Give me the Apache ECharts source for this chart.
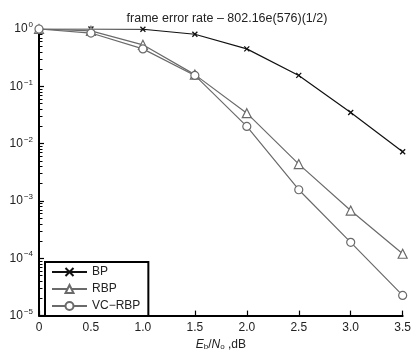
<!DOCTYPE html>
<html>
<head>
<meta charset="utf-8">
<script src="https://cdn.jsdelivr.net/npm/echarts@6/dist/echarts.min.js"></script>
<style>html,body{margin:0;padding:0;background:#fff}#c{width:414px;height:356px}</style>
</head>
<body>
<div id="c"></div>
<script>
var snr = [0, 0.5, 1.0, 1.5, 2.0, 2.5, 3.0, 3.5];
var bp = [1.0, 1.0, 0.99, 0.81, 0.45, 0.155, 0.035, 0.0072];
var rbp = [1.0, 0.93, 0.53, 0.16, 0.034, 0.0044, 0.00068, 0.00012];
var vcrbp = [1.0, 0.85, 0.45, 0.155, 0.02, 0.00157, 0.00019, 0.0000225];
var seriesNames = ['BP', 'RBP', 'VC\u2212RBP'];
var xTicks = ['0', '0.5', '1.0', '1.5', '2.0', '2.5', '3.0', '3.5'];
var titleText = 'frame error rate \u2013 802.16e(576)(1/2)';

// minor tick positions (log10 of 2..9 x 10^e), used on a decoration axis
var minorExp = [];
for (var e = -5; e < 0; e++) {
  for (var m = 2; m <= 9; m++) minorExp.push(e + Math.log10(m));
}
var FONT = '"Liberation Sans", Arial, sans-serif';
var crossPath = 'path://M0,0 L10,10 M10,0 L0,10';

function pairs(ys) { return snr.map(function (x, i) { return [x, ys[i]]; }); }

var chart = echarts.init(document.getElementById('c'));
chart.setOption({
  animation: false,
  backgroundColor: '#fff',
  title: {
    text: titleText, left: 222, textAlign: 'center', top: 7,
    textStyle: { fontSize: 12.5, fontWeight: 'normal', color: '#222', fontFamily: FONT }
  },
  grid: { left: 39, right: 7, top: 29, bottom: 38 },
  legend: {
    left: 45, top: 262, orient: 'vertical',
    data: seriesNames,
    backgroundColor: '#fff', borderColor: '#000', borderWidth: 2,
    padding: [4, 8, 4, 6], itemGap: 5, itemWidth: 35, itemHeight: 10,
    textStyle: { fontSize: 12, color: '#222', fontFamily: FONT }
  },
  xAxis: {
    type: 'value', min: 0, max: 3.5, interval: 0.5,
    axisLine: { show: true, onZero: false, lineStyle: { color: '#000', width: 2 } },
    axisTick: { show: true, inside: true, length: 5, lineStyle: { color: '#000', width: 1.2 } },
    splitLine: { show: false },
    axisLabel: {
      fontSize: 12, color: '#222', margin: 6, fontFamily: FONT,
      formatter: function (v) { var i = Math.round(v / 0.5); return xTicks[i] || ''; }
    },
    name: '{i|E}{s|b}{n|/}{i|N}{s|o}{n| ,dB}',
    nameLocation: 'middle', nameGap: 22,
    nameTextStyle: {
      rich: {
        i: { fontSize: 12, fontStyle: 'italic', color: '#222', fontFamily: FONT },
        s: { fontSize: 8, color: '#222', padding: [5, 0, 0, 0], fontFamily: FONT },
        n: { fontSize: 12, color: '#222', fontFamily: FONT }
      }
    }
  },
  yAxis: [{
    type: 'log', logBase: 10, min: 1e-5, max: 1,
    axisLine: { show: true, lineStyle: { color: '#000', width: 2 } },
    axisTick: { show: true, inside: true, length: 5, lineStyle: { color: '#000', width: 1.2 } },
    splitLine: { show: false },
    axisLabel: {
      margin: 6,
      formatter: function (v) {
        var ex = Math.round(Math.log10(v));
        var s = ex === 0 ? '0' : '\u2212' + (-ex);
        return '{b|10}{e|' + s + '}';
      },
      rich: {
        b: { fontSize: 12, color: '#222', fontFamily: FONT },
        e: { fontSize: 8, color: '#222', padding: [0, 0, 8, 1], fontFamily: FONT }
      }
    }
  }, {
    type: 'value', min: -5, max: 0, position: 'left',
    axisLine: { show: false, onZero: false },
    axisTick: { show: true, inside: true, length: 3.5, customValues: minorExp, lineStyle: { color: '#000', width: 1 } },
    axisLabel: { show: false },
    splitLine: { show: false }
  }],
  series: [{
    name: seriesNames[0], type: 'line', data: pairs(bp),
    symbol: crossPath, symbolSize: 5,
    lineStyle: { color: '#111', width: 1.2 },
    itemStyle: { color: '#fff', borderColor: '#111', borderWidth: 1.3 },
    color: '#111'
  }, {
    name: seriesNames[1], type: 'line', data: pairs(rbp),
    symbol: 'triangle', symbolSize: 9,
    lineStyle: { color: '#6a6a6a', width: 1.2 },
    itemStyle: { color: '#fff', borderColor: '#6a6a6a', borderWidth: 1.2 },
    color: '#6a6a6a'
  }, {
    name: seriesNames[2], type: 'line', data: pairs(vcrbp),
    symbol: 'circle', symbolSize: 8,
    lineStyle: { color: '#6a6a6a', width: 1.2 },
    itemStyle: { color: '#fff', borderColor: '#6a6a6a', borderWidth: 1.2 },
    color: '#6a6a6a'
  }]
});
</script>
</body>
</html>
